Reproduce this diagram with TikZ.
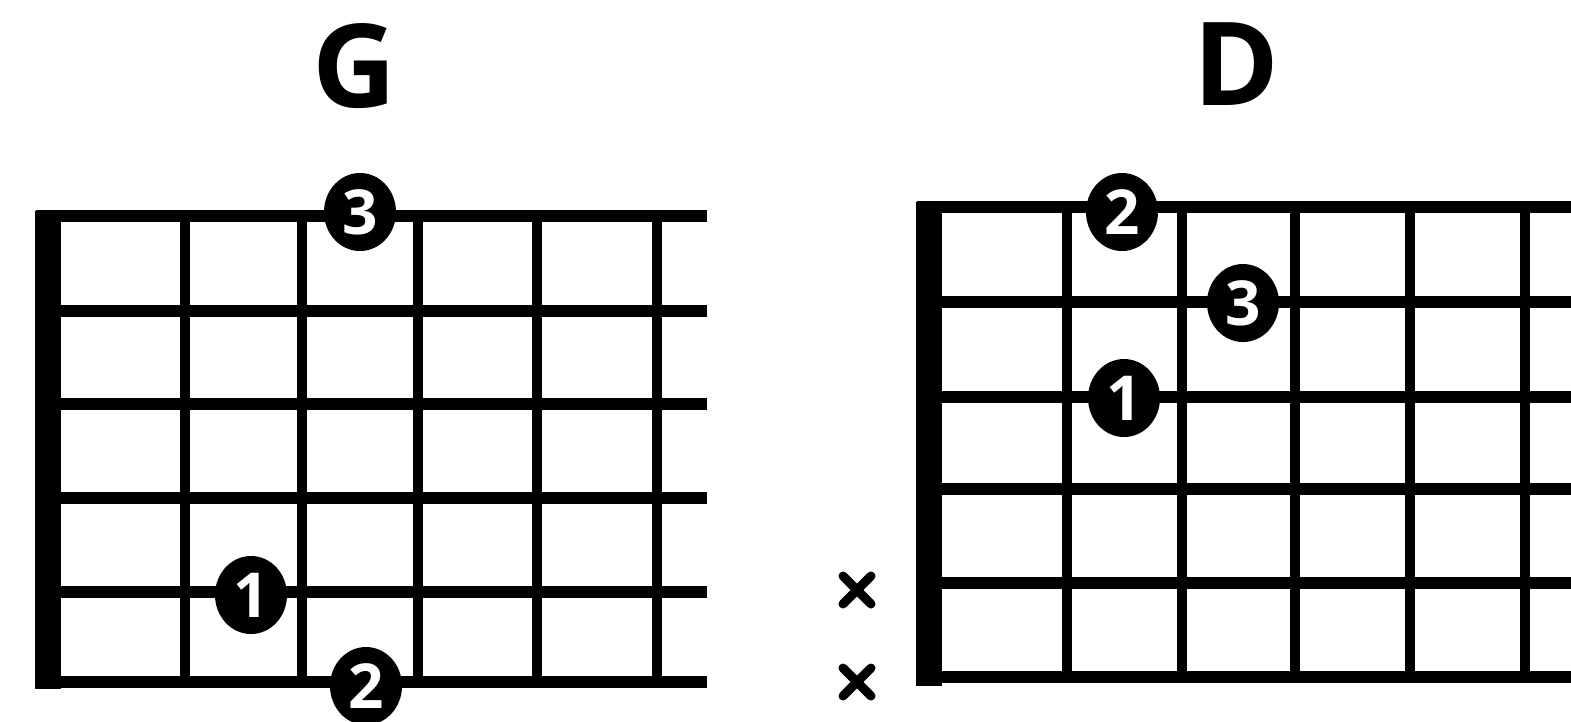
\documentclass[tikz,border=0pt]{standalone}
\usepackage{fontspec}
\setmainfont{Open Sans}
\usetikzlibrary{shapes.geometric,calc}
\tikzset{
  str/.style={line width=11.5pt, line cap=butt},
  fretline/.style={line width=10pt},
  nutbar/.style={fill=black},
  dot/.style={ellipse, fill=black, text=white, minimum width=72pt, minimum height=78pt, inner sep=0pt,
    font=\fontsize{62}{62}\selectfont\bfseries},
  title/.style={font=\fontsize{116}{116}\selectfont\bfseries, inner sep=0pt},
  xmark/.style={line width=9pt, line cap=round}
}
\begin{document}
\begin{tikzpicture}[x=1pt,y=-1pt]
\useasboundingbox (0,0) rectangle (1571,721);
% ---------- G ----------
\node[title] (gtitle) at (354,66) {G};
\foreach \y in {216,311,404,498,592,682} \draw[str] (36,\y) -- (707,\y);
\foreach \x in {185,302,418,537,657} \draw[fretline] (\x,216) -- (\x,682);
\fill[nutbar] (35,211) rectangle (61,689);
\node[dot] (g3) at (360,212) {3};
\node[dot] (g1) at (251,595) {1};
\node[dot] (g2) at (366,686) {2};
% ---------- D ----------
\node[title] (dtitle) at (1236,64) {D};
\foreach \y in {207,302,397,489,583,677} \draw[str] (917,\y) -- (1575,\y);
\foreach \x in {1067,1182,1295,1410,1525} \draw[fretline] (\x,207) -- (\x,677);
\fill[nutbar] (916,202) rectangle (942,686);
\node[dot] (d2) at (1122,212) {2};
\node[dot] (d3) at (1243,303) {3};
\node[dot] (d1) at (1124,398) {1};
% muted strings
\coordinate (x1) at (857,590);
\coordinate (x2) at (857,682);
\foreach \c in {x1,x2} {
  \draw[xmark] ($(\c)+(-14,-14)$) -- ($(\c)+(14,14)$);
  \draw[xmark] ($(\c)+(-14,14)$) -- ($(\c)+(14,-14)$);
}
\end{tikzpicture}
\end{document}
